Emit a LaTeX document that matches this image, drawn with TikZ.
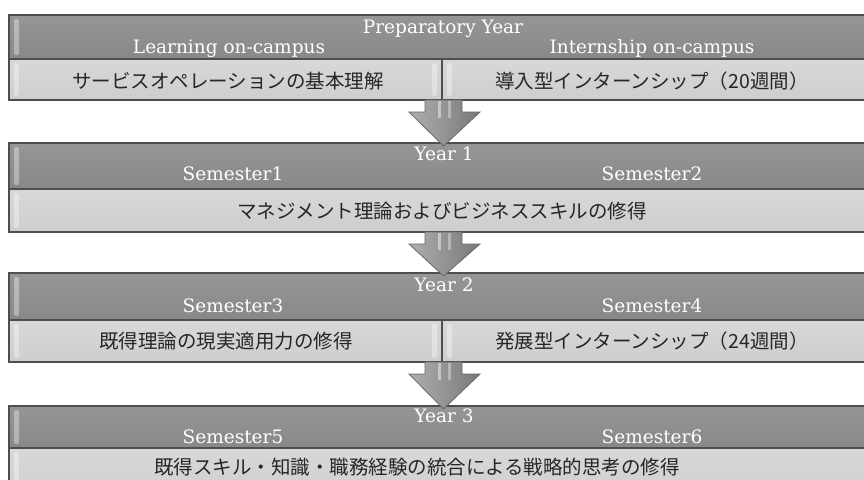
\documentclass[tikz,border=0pt]{standalone}
\usepackage{fontspec}
\setmainfont{DejaVu Serif}
\newfontfamily\jp{Noto Sans CJK JP}
\usetikzlibrary{calc}
\definecolor{hdr}{RGB}{136,136,136}
\definecolor{hdrtop}{RGB}{150,150,150}
\definecolor{low}{RGB}{206,206,206}
\definecolor{lowtop}{RGB}{216,216,216}
\definecolor{edge}{RGB}{78,78,78}
\definecolor{arrL}{RGB}{175,175,175}
\definecolor{arrR}{RGB}{120,120,120}
\begin{document}
\begin{tikzpicture}[x=1pt,y=-1pt,
  hdrbox/.style={draw=edge,line width=1.3pt,top color=hdrtop,bottom color=hdr,inner sep=0pt,outer sep=0pt,anchor=north west},
  lowbox/.style={draw=edge,line width=1.3pt,top color=lowtop,bottom color=low,inner sep=0pt,outer sep=0pt,anchor=north west},
  ttl/.style={text=white,font=\fontsize{18.5}{21}\selectfont,anchor=base,inner sep=0pt},
  jtxt/.style={text=black!85,font=\jp\fontsize{19.5}{22}\selectfont,inner sep=0pt},
  bevel/.style={fill=white,fill opacity=0.35,rounded corners=2pt},
  arrowshape/.style={draw=edge!85,line width=0.8pt,left color=arrL,right color=arrR,line join=miter}]
\fill[white] (0,0) rectangle (864,479);
\useasboundingbox (0,0) rectangle (864,479);
% block 1
\node[hdrbox,minimum width=857,minimum height=44] (h1) at (9,15) {};
\node[lowbox,minimum width=433,minimum height=41] (l1a) at (9,59) {};
\node[lowbox,minimum width=424,minimum height=41] (l1b) at (442,59) {};
% block 2
\node[hdrbox,minimum width=857,minimum height=46] (h2) at (9,143) {};
\node[lowbox,minimum width=857,minimum height=43] (l2) at (9,189) {};
% block 3
\node[hdrbox,minimum width=857,minimum height=47] (h3) at (9,273) {};
\node[lowbox,minimum width=433,minimum height=42] (l3a) at (9,320) {};
\node[lowbox,minimum width=424,minimum height=42] (l3b) at (442,320) {};
% block 4
\node[hdrbox,minimum width=857,minimum height=42] (h4) at (9,406) {};
\node[lowbox,minimum width=857,minimum height=56] (l4) at (9,448) {};
% bevels
\foreach \n in {h1,l1a,l1b,h2,l2,h3,l3a,l3b,h4,l4}
  {\fill[bevel] ($(\n.north west)+(5,4)$) rectangle ($(\n.south west)+(10,-4)$);}
\foreach \n in {l1a,l3a}
  {\fill[bevel] ($(\n.north east)+(-10,4)$) rectangle ($(\n.south east)+(-5,-4)$);}
% texts block 1
\node[ttl] (t1) at (443,33) {Preparatory Year};
\node[ttl] (t1a) at (229,53) {Learning on-campus};
\node[ttl] (t1b) at (652,53) {Internship on-campus};
\node[jtxt] (j1a) at (228,81) {サービスオペレーションの基本理解};
\node[jtxt] (j1b) at (652,81) {導入型インターンシップ（20週間）};
% block 2
\node[ttl] (t2) at (444,160) {Year 1};
\node[ttl] (t2a) at (233,180) {Semester1};
\node[ttl] (t2b) at (652,180) {Semester2};
\node[jtxt] (j2) at (442,211) {マネジメント理論およびビジネススキルの修得};
% block 3
\node[ttl] (t3) at (444,291) {Year 2};
\node[ttl] (t3a) at (233,312) {Semester3};
\node[ttl] (t3b) at (652,312) {Semester4};
\node[jtxt] (j3a) at (226,341) {既得理論の現実適用力の修得};
\node[jtxt] (j3b) at (652,341) {発展型インターンシップ（24週間）};
% block 4
\node[ttl] (t4) at (444,422) {Year 3};
\node[ttl] (t4a) at (233,443) {Semester5};
\node[ttl] (t4b) at (652,443) {Semester6};
\node[jtxt] (j4) at (417,467) {既得スキル・知識・職務経験の統合による戦略的思考の修得};
% arrows
\foreach \s/\e/\k in {l1b/h2/a1,l2/h3/a2,l3b/h4/a3}{
  \coordinate (\k s) at (\s.south -| 443.5,0);
  \coordinate (\k e) at ($(\e.north -| 443.5,0)+(0,3)$);
  \draw[arrowshape] ($(\k s)+(-18.5,0)$) -- ($(\k s)+(18.5,0)$) -- ($(\k s)+(18.5,12)$)
     -- ($(\k s)+(36.5,12)$) -- (\k e) -- ($(\k s)+(-34.5,12)$) -- ($(\k s)+(-18.5,12)$) -- cycle;
  \fill[white,opacity=0.45] ($(\k s)+(-6,1)$) rectangle ($(\k s)+(-3,18)$);
  \fill[white,opacity=0.35] ($(\k s)+(4,1)$) rectangle ($(\k s)+(7,18)$);
}
\end{tikzpicture}
\end{document}
